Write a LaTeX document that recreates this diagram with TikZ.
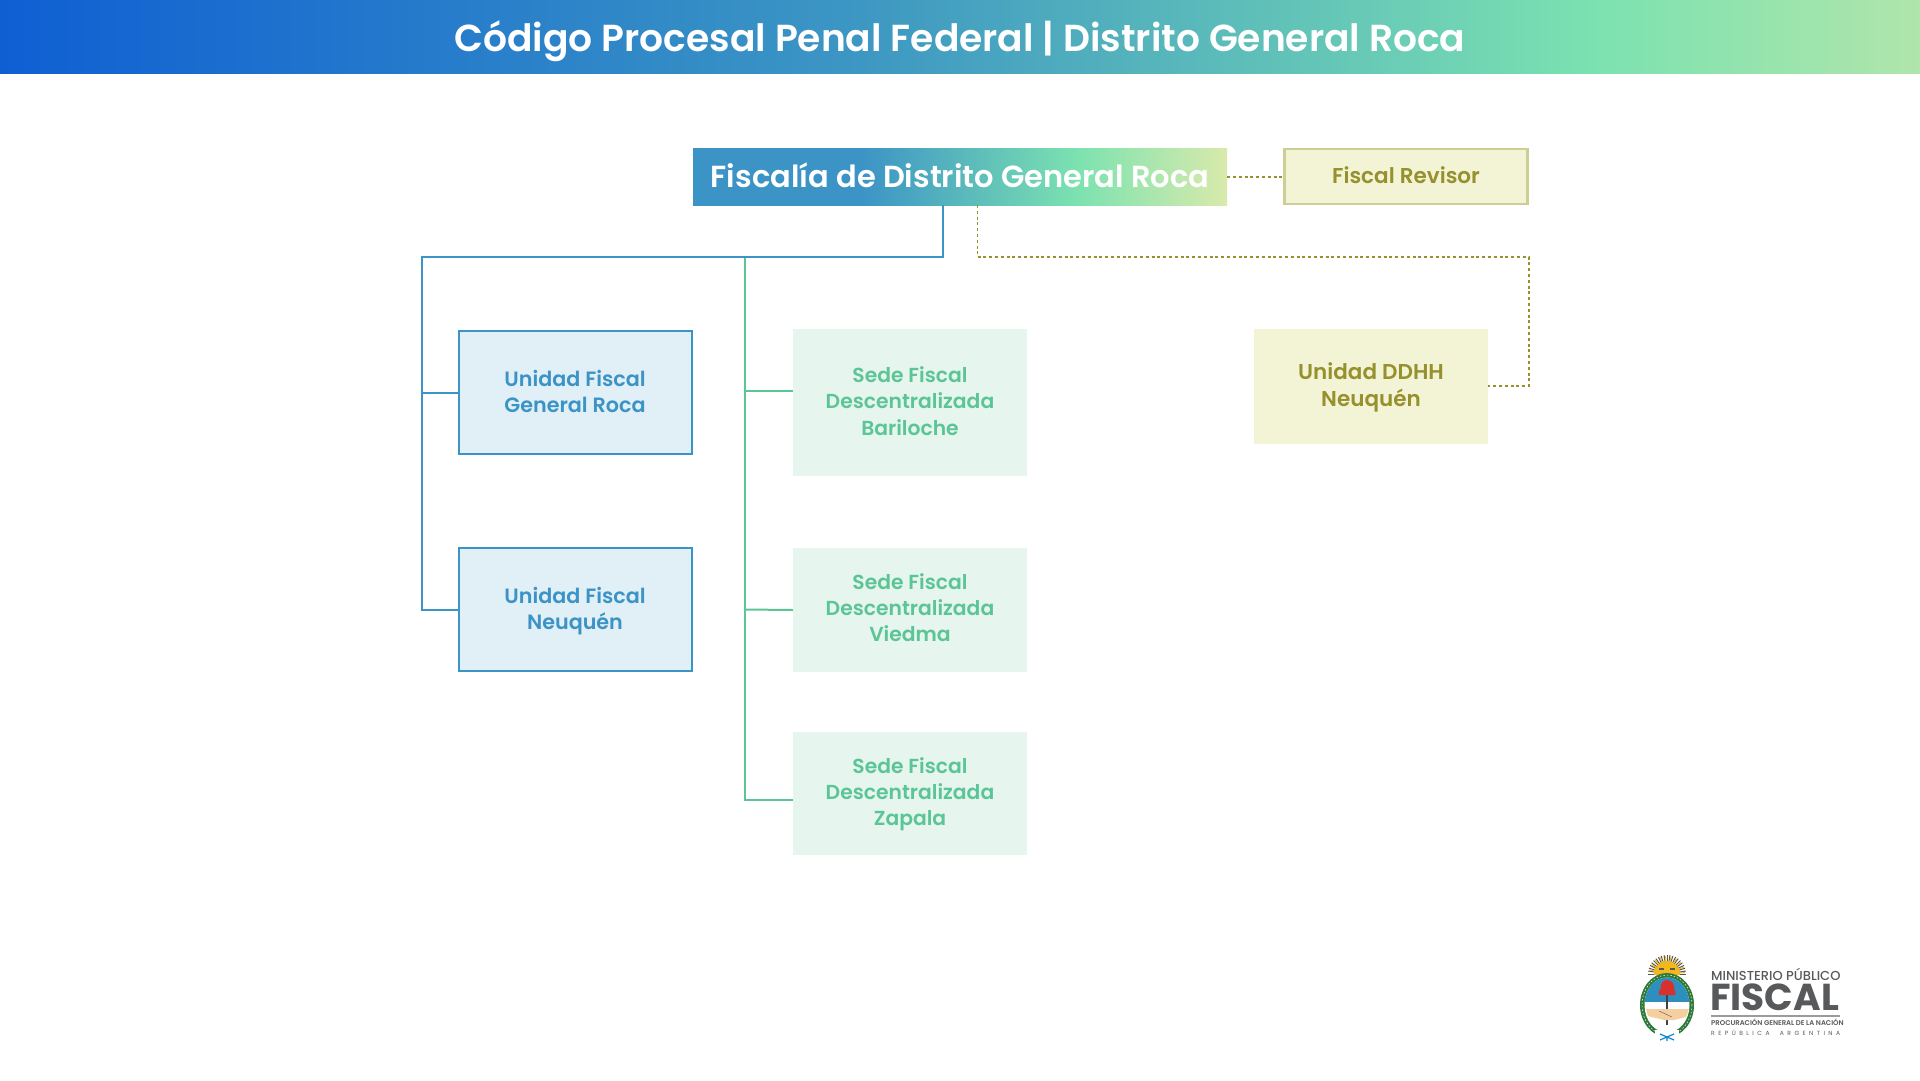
\documentclass[tikz,border=0pt]{standalone}
\usepackage{fontspec}
\setmainfont{Poppins}[BoldFont={Poppins SemiBold}]
\newfontfamily\medfont{Poppins Medium}
\newfontfamily\heavyfont{Poppins Bold}
\usetikzlibrary{calc}
\definecolor{cblue}{HTML}{3B93C6}
\definecolor{cbluef}{HTML}{E1EFF6}
\definecolor{cgreen}{HTML}{5CC596}
\definecolor{cgreenf}{HTML}{E6F5EE}
\definecolor{colive}{HTML}{96912E}
\definecolor{coliveb}{HTML}{CDCF92}
\definecolor{colivef}{HTML}{F3F4D5}
\definecolor{hA}{HTML}{0F5FD3}
\definecolor{hB}{HTML}{3D97C3}
\definecolor{hC}{HTML}{7CE2B0}
\definecolor{hD}{HTML}{B0E5AB}
\definecolor{mD}{HTML}{D9EAAB}
\definecolor{lgray}{HTML}{58595B}
\definecolor{lgreen}{HTML}{2F7A3B}
\definecolor{lsun}{HTML}{F2B81C}
\definecolor{lsky}{HTML}{2E8FBE}
\definecolor{lred}{HTML}{D8302C}
\definecolor{lskin}{HTML}{F5CFA0}
\pgfdeclarehorizontalshading{hdrshade}{100bp}{color(0bp)=(hA); color(25bp)=(hA); color(47.4bp)=(hB); color(66.7bp)=(hC); color(75bp)=(hD); color(100bp)=(hD)}
\pgfdeclarehorizontalshading{mainshade}{100bp}{color(0bp)=(cblue); color(40.6bp)=(cblue); color(61bp)=(hC); color(75bp)=(mD); color(100bp)=(mD)}
\tikzset{
 x=1pt,y=-1pt,
 lastbase/.style={text height=#1,text depth=0pt},
 boxlbl/.style={font=\fontsize{20.3}{26.2}\selectfont\bfseries,align=center,inner sep=0pt},
 bluebox/.style={boxlbl,font=\fontsize{20.7}{26.2}\selectfont\bfseries,draw=cblue,line width=2pt,fill=cbluef,text=cblue,minimum width=233pt,minimum height=123pt},
 greenbox/.style={boxlbl,fill=cgreenf,text=cgreen,minimum width=234pt},
 olivebox/.style={boxlbl,fill=colivef,text=colive,minimum width=234pt},
 blueline/.style={draw=cblue,line width=2pt},
 greenline/.style={draw=cgreen,line width=2pt},
 oliveline/.style={draw=colive,line width=2pt,dash pattern=on 3pt off 2.8pt},
 logotext/.style={inner sep=0pt,text=lgray,anchor=west}
}
\begin{document}
\begin{tikzpicture}
\useasboundingbox (0,0) rectangle (1920,1080);
\fill[white] (0,0) rectangle (1920,1080);
% header
\path[shading=hdrshade] (0,0) rectangle (1920,73);
\node[inner sep=0pt,text=white,lastbase=27.4pt,font=\fontsize{37.6}{42}\selectfont\bfseries] (title) at (960,38) {Código Procesal Penal Federal | Distrito General Roca};
% top box
\path[shading=mainshade] (693,148) rectangle (1227,205);
\node[inner sep=0pt,minimum width=534pt,minimum height=57pt,lastbase=21.4pt,text=white,font=\fontsize{30.5}{34}\selectfont\bfseries] (main) at (960,176.5) {Fiscalía de Distrito General Roca};
\node[olivebox,draw=coliveb,line width=2.2pt,minimum width=243pt,minimum height=55pt,lastbase=13.4pt,font=\fontsize{21.5}{26}\selectfont\bfseries] (rev) at (1406,176.5) {Fiscal Revisor};
% boxes
\node[bluebox,lastbase=40.7pt] (u1) at (575,392.5) {Unidad Fiscal\\General Roca};
\node[bluebox,lastbase=40pt] (u2) at (575,609.5) {Unidad Fiscal\\Neuquén};
\node[greenbox,minimum height=147pt,lastbase=65pt] (s1) at (910,402.5) {Sede Fiscal\\Descentralizada\\Bariloche};
\node[greenbox,minimum height=124pt,lastbase=63.4pt] (s2) at (910,610) {Sede Fiscal\\Descentralizada\\Viedma};
\node[greenbox,minimum height=123pt,lastbase=63.8pt] (s3) at (910,793.5) {Sede Fiscal\\Descentralizada\\Zapala};
\node[olivebox,minimum height=115pt,lastbase=39pt,font=\fontsize{21.5}{26.2}\selectfont\bfseries] (d) at (1371,386.5) {Unidad DDHH\\Neuquén};
% junction coordinates
\coordinate (mb) at (942.5,205);
\coordinate (mo) at (977.5,205);
\coordinate (bj) at (942.5,257);
\coordinate (gj) at (745,257);
\coordinate (lj) at (422,257);
% connectors
\draw[greenline] (gj) -- (745,800) -- (s3.west |- 0,800);
\draw[greenline] (745,391) -- (s1.west |- 0,391);
\draw[greenline] (745,609.5) -- (s2.west);
\draw[blueline,line join=miter] (mb) -- (bj) -- (lj) |- (u2.west);
\draw[blueline] (lj |- u1.west) -- (u1.west);
\draw[oliveline] (main.east) -- (rev.west);
\draw[oliveline,line width=1.2pt] (mo) -- (977.5,257);
\draw[oliveline] (977.5,257) -- (1529,257) -- (1529,386) -- (d.east |- 0,386);
% logo: sun
\begin{scope}
 \clip (1640,950) rectangle (1695,974);
 \foreach \a in {0,9,...,180} \draw[draw=black!65,line width=1pt] (1667,974) -- ({1667+19*cos(\a)},{974-19*sin(\a)});
 \foreach \a in {4.5,22.5,...,180} \draw[draw=lsun,line width=1pt] (1667,974) -- ({1667+18*cos(\a)},{974-18*sin(\a)});
 \fill[lsun] (1667,974) circle[radius=13];
 \fill[lgray] (1659,968) rectangle (1664,970);
 \fill[lgray] (1670,968) rectangle (1675,970);
\end{scope}
% logo: wreath and field
\fill[lgreen] (1667,1005) ellipse[x radius=27,y radius=32];
\draw[white,line width=0.5pt,dash pattern=on 1.5pt off 2pt] (1667,1005) ellipse[x radius=25,y radius=30];
\fill[white] (1667,1005) ellipse[x radius=22.5,y radius=27.5];
\begin{scope}
 \clip (1667,1005) ellipse[x radius=22.5,y radius=27.5];
 \fill[lsky] (1640,975) rectangle (1695,1002);
\end{scope}
\fill[white] (1655,1030) rectangle (1679,1038);
\draw[black!75,line width=1.3pt] (1667,993) -- (1667,1025);
\fill[lred] (1667,980) .. controls (1672,980) and (1675,985) .. (1674,989) .. controls (1676,992) and (1676,995) .. (1675,995) -- (1659,995) .. controls (1658,993) and (1659,990) .. (1661,988) .. controls (1660,984) and (1663,980) .. (1667,980) -- cycle;
\fill[lskin] (1646,1009) -- (1660,1009) -- (1672,1009) -- (1689,1009) -- (1686,1017) -- (1674,1020) -- (1664,1020) -- (1648,1016) -- cycle;
\draw[lgray,line width=0.4pt] (1659,1011) -- (1672,1017);
\draw[cyan!70!blue,line width=1.2pt] (1660,1034) -- (1674,1040) (1674,1034) -- (1660,1040) (1667,1036) -- (1667,1041);
% logo: text
\node[logotext,font=\fontsize{13}{13}\selectfont\medfont] (lg1) at (1711,974.5) {MINISTERIO PÚBLICO};
\node[logotext,font=\fontsize{37.5}{38}\selectfont\heavyfont] (lg2) at (1710,997) {FISCAL};
\fill[lgray!60] (1711,1015) rectangle (1840,1017);
\node[logotext,font=\fontsize{6.9}{7}\selectfont\bfseries] (lg3) at (1711,1022.5) {PROCURACIÓN GENERAL DE LA NACIÓN};
\node[logotext,font=\fontsize{6}{6}\selectfont] (lg4) at (1711,1033) {\makebox[129pt][s]{R\hfill E\hfill P\hfill Ú\hfill B\hfill L\hfill I\hfill C\hfill A\hfill\hfill\hfill A\hfill R\hfill G\hfill E\hfill N\hfill T\hfill I\hfill N\hfill A}};
\end{tikzpicture}
\end{document}
